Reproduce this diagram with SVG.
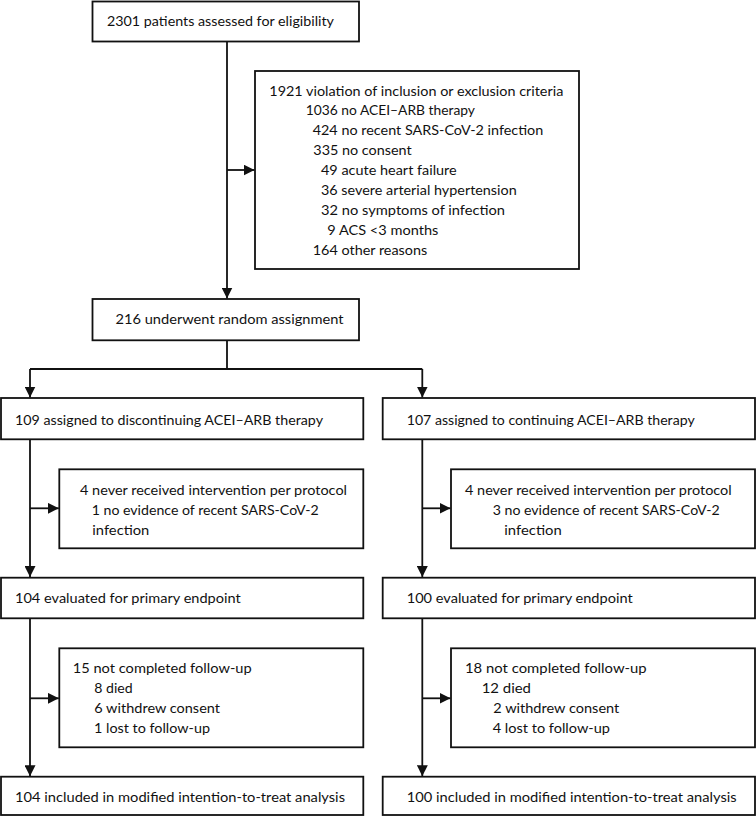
<svg xmlns="http://www.w3.org/2000/svg" width="756" height="817" viewBox="0 0 756 817">
<style>
rect.box{fill:#fff;stroke:#111;stroke-width:1.8}
text{font-family:Lato,"Open Sans","Liberation Sans",sans-serif;font-size:14px;fill:#111}
.con path{fill:none;stroke:#111;stroke-width:1.8}
</style>
<defs>
<marker id="ah" markerUnits="userSpaceOnUse" markerWidth="11" markerHeight="11" refX="10" refY="5" orient="auto" viewBox="0 0 10 10">
<path d="M0,0 L10,5 L0,10 z" fill="#111"/>
</marker>
</defs>
<rect width="756" height="817" fill="#fff"/>
<g class="con" id="connectors">
<path d="M227 41.5 V298.5" marker-end="url(#ah)"/>
<path d="M227 170 H254.5" marker-end="url(#ah)"/>
<path d="M227 340 V369 M30 369 H422.3"/>
<path d="M30 369 V397.5" marker-end="url(#ah)"/>
<path d="M422.3 369 V397.5" marker-end="url(#ah)"/>
<path d="M30 439 V577" marker-end="url(#ah)"/>
<path d="M30 508.3 H58.8" marker-end="url(#ah)"/>
<path d="M422.3 439 V577" marker-end="url(#ah)"/>
<path d="M422.3 508.3 H450.5" marker-end="url(#ah)"/>
<path d="M30 618 V776.2" marker-end="url(#ah)"/>
<path d="M30 698.3 H58.8" marker-end="url(#ah)"/>
<path d="M422.3 618 V776.2" marker-end="url(#ah)"/>
<path d="M422.3 698.3 H450.5" marker-end="url(#ah)"/>
</g>
<g id="assessed">
<rect class="box" x="92.5" y="1.5" width="266.5" height="40"/>
<text x="107" y="26.3" textLength="227" lengthAdjust="spacingAndGlyphs">2301 patients assessed for eligibility</text>
</g>
<g id="excluded">
<rect class="box" x="255" y="71" width="324" height="198"/>
<text x="269.3" y="95.5" textLength="294" lengthAdjust="spacingAndGlyphs">1921 violation of inclusion or exclusion criteria</text>
<text x="305.7" y="115.4" textLength="169.3" lengthAdjust="spacingAndGlyphs">1036 no ACEI–ARB therapy</text>
<text x="312.7" y="135.4" textLength="230.6" lengthAdjust="spacingAndGlyphs">424 no recent SARS-CoV-2 infection</text>
<text x="313.3" y="155.3" textLength="98.4" lengthAdjust="spacingAndGlyphs">335 no consent</text>
<text x="321" y="175.3" textLength="135.7" lengthAdjust="spacingAndGlyphs">49 acute heart failure</text>
<text x="321" y="195.2" textLength="195.7" lengthAdjust="spacingAndGlyphs">36 severe arterial hypertension</text>
<text x="321" y="215.2" textLength="184" lengthAdjust="spacingAndGlyphs">32 no symptoms of infection</text>
<text x="327.3" y="235.1" textLength="111" lengthAdjust="spacingAndGlyphs">9 ACS &lt;3 months</text>
<text x="312.7" y="255.1" textLength="114.6" lengthAdjust="spacingAndGlyphs">164 other reasons</text>
</g>
<g id="randomised">
<rect class="box" x="92.5" y="299" width="266.5" height="41.3"/>
<text x="115.5" y="324" textLength="228" lengthAdjust="spacingAndGlyphs">216 underwent random assignment</text>
</g>
<g id="disc-assigned">
<rect class="box" x="1" y="398" width="362.3" height="41.3"/>
<text x="15" y="425" textLength="308" lengthAdjust="spacingAndGlyphs">109 assigned to discontinuing ACEI–ARB therapy</text>
</g>
<g id="cont-assigned">
<rect class="box" x="382.7" y="398" width="372.3" height="41.3"/>
<text x="406.7" y="425" textLength="288" lengthAdjust="spacingAndGlyphs">107 assigned to continuing ACEI–ARB therapy</text>
</g>
<g id="disc-never">
<rect class="box" x="59.3" y="469.3" width="304" height="79"/>
<text x="80" y="495" textLength="267" lengthAdjust="spacingAndGlyphs">4 never received intervention per protocol</text>
<text x="91.7" y="515" textLength="227" lengthAdjust="spacingAndGlyphs">1 no evidence of recent SARS-CoV-2</text>
<text x="92.3" y="534.5" textLength="57" lengthAdjust="spacingAndGlyphs">infection</text>
</g>
<g id="cont-never">
<rect class="box" x="451" y="469.3" width="304" height="79"/>
<text x="465" y="495" textLength="266.7" lengthAdjust="spacingAndGlyphs">4 never received intervention per protocol</text>
<text x="492.7" y="515" textLength="227" lengthAdjust="spacingAndGlyphs">3 no evidence of recent SARS-CoV-2</text>
<text x="504.3" y="534.5" textLength="57.4" lengthAdjust="spacingAndGlyphs">infection</text>
</g>
<g id="disc-evaluated">
<rect class="box" x="1" y="577.7" width="362.3" height="40.6"/>
<text x="15" y="602.7" textLength="225.7" lengthAdjust="spacingAndGlyphs">104 evaluated for primary endpoint</text>
</g>
<g id="cont-evaluated">
<rect class="box" x="382.7" y="577.7" width="372.3" height="40.6"/>
<text x="406.7" y="602.7" textLength="226" lengthAdjust="spacingAndGlyphs">100 evaluated for primary endpoint</text>
</g>
<g id="disc-notcompleted">
<rect class="box" x="59.3" y="648.3" width="304" height="99"/>
<text x="72.7" y="673.3" textLength="179" lengthAdjust="spacingAndGlyphs">15 not completed follow-up</text>
<text x="94.3" y="693.3" textLength="38.4" lengthAdjust="spacingAndGlyphs">8 died</text>
<text x="94.3" y="713.3" textLength="125.7" lengthAdjust="spacingAndGlyphs">6 withdrew consent</text>
<text x="94" y="732.8" textLength="116" lengthAdjust="spacingAndGlyphs">1 lost to follow-up</text>
</g>
<g id="cont-notcompleted">
<rect class="box" x="451" y="648.3" width="304" height="99"/>
<text x="465" y="673.3" textLength="181.7" lengthAdjust="spacingAndGlyphs">18 not completed follow-up</text>
<text x="481.7" y="693.3" textLength="49.3" lengthAdjust="spacingAndGlyphs">12 died</text>
<text x="493.3" y="713.3" textLength="126" lengthAdjust="spacingAndGlyphs">2 withdrew consent</text>
<text x="492.7" y="732.8" textLength="117.3" lengthAdjust="spacingAndGlyphs">4 lost to follow-up</text>
</g>
<g id="disc-mitt">
<rect class="box" x="1" y="776.7" width="362.3" height="38.3"/>
<text x="15" y="801.7" textLength="330" lengthAdjust="spacingAndGlyphs">104 included in modified intention-to-treat analysis</text>
</g>
<g id="cont-mitt">
<rect class="box" x="382.7" y="776.7" width="372.3" height="38.3"/>
<text x="406.7" y="801.7" textLength="330" lengthAdjust="spacingAndGlyphs">100 included in modified intention-to-treat analysis</text>
</g>
</svg>
